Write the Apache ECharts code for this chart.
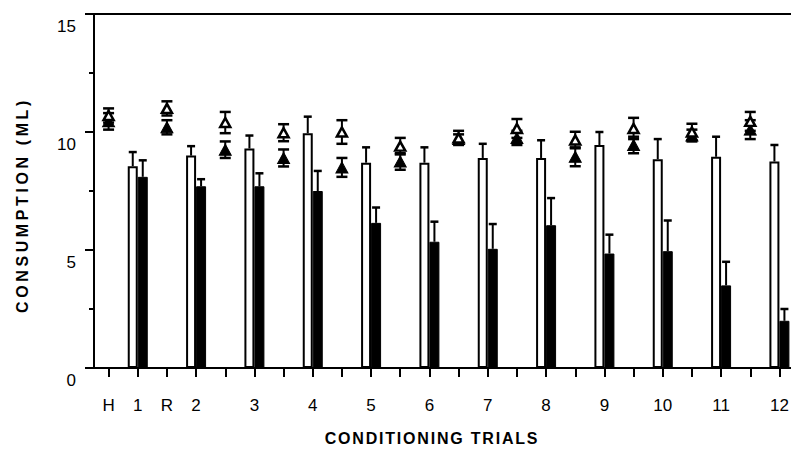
<!DOCTYPE html>
<html>
<head>
<meta charset="utf-8">
<script src="https://cdn.jsdelivr.net/npm/echarts@6/dist/echarts.min.js"></script>
<style>
html,body{margin:0;padding:0;background:#fff;overflow:hidden;width:791px;height:452px;}
#chart{width:804px;height:452px;}
</style>
</head>
<body>
<div id="chart"></div>
<script>
// Slot labels along the x axis (triangle slots alternate with bar slots)
const slotLabels = ['H','1','R','2','','3','','4','','5','','6','','7','','8','','9','','10','','11','','12'];

// Triangle measurements (at even slots): open and filled, mean and SE
const openTri     = [10.7, 11.0, 10.4, 9.97, 10.0, 9.4, 9.75, 10.15, 9.66, 10.15, 10.0, 10.45];
const openTriSE   = [0.3, 0.3, 0.45, 0.36, 0.5, 0.35, 0.3, 0.4, 0.35, 0.45, 0.35, 0.4];
const filledTri   = [10.45, 10.2, 9.25, 8.9, 8.5, 8.75, 9.7, 9.75, 8.95, 9.45, 9.85, 10.1];
const filledTriSE = [0.35, 0.3, 0.35, 0.36, 0.4, 0.35, 0.2, 0.3, 0.4, 0.35, 0.25, 0.4];

// Conditioning trial bars (at odd slots): white and black, mean and SE
const whiteBar   = [8.55, 9.0, 9.3, 9.95, 8.7, 8.7, 8.9, 8.9, 9.45, 8.85, 8.95, 8.75];
const whiteBarSE = [0.6, 0.4, 0.55, 0.7, 0.65, 0.65, 0.6, 0.75, 0.55, 0.85, 0.85, 0.7];
const blackBar   = [8.1, 7.7, 7.7, 7.5, 6.15, 5.35, 5.05, 6.05, 4.85, 4.95, 3.5, 2.0];
const blackBarSE = [0.7, 0.3, 0.55, 0.85, 0.65, 0.85, 1.05, 1.15, 0.8, 1.3, 1.0, 0.5];

const yTicks = [0, 5, 10, 15];

const triSlot = i => 2 * i;
const barSlot = i => 2 * i + 1;

function barData(vals) {
  const arr = slotLabels.map(() => '-');
  vals.forEach((v, i) => { arr[barSlot(i)] = v; });
  return arr;
}

function errSeries(name, means, ses, slotFn, dx, both, capW) {
  return {
    type: 'custom',
    name: name,
    z: 3,
    silent: true,
    data: means.map((m, i) => [slotFn(i), m, ses[i]]),
    renderItem: function (params, api) {
      const idx = api.value(0), m = api.value(1), se = api.value(2);
      const x = api.coord([idx, m])[0] + dx;
      const yHi = api.coord([idx, m + se])[1];
      const yLo = both ? api.coord([idx, m - se])[1] : api.coord([idx, m])[1];
      const st = { stroke: '#000', lineWidth: 2 };
      const children = [
        { type: 'line', shape: { x1: x, y1: yLo, x2: x, y2: yHi }, style: st },
        { type: 'line', shape: { x1: x - capW / 2, y1: yHi, x2: x + capW / 2, y2: yHi }, style: { stroke: '#000', lineWidth: 2.5 } }
      ];
      if (both) {
        children.push({ type: 'line', shape: { x1: x - capW / 2, y1: yLo, x2: x + capW / 2, y2: yLo }, style: { stroke: '#000', lineWidth: 2.5 } });
      }
      return { type: 'group', children: children };
    }
  };
}

const chart = echarts.init(document.getElementById('chart'), null, { renderer: 'svg' });
const labelFont = { color: '#000', fontSize: 17, fontFamily: '"Liberation Sans", Arial, sans-serif' };

chart.setOption({
  animation: false,
  backgroundColor: '#fff',
  grid: { left: 94, top: 14, width: 700, height: 354, show: true, borderColor: '#000', borderWidth: 2, backgroundColor: 'transparent' },
  xAxis: {
    type: 'category',
    data: slotLabels,
    boundaryGap: true,
    axisLine: { lineStyle: { color: '#000', width: 2 } },
    axisTick: { show: true, alignWithLabel: true, interval: 0, length: 9, lineStyle: { color: '#000', width: 2 } },
    axisLabel: Object.assign({ interval: 0, margin: 29 }, labelFont),
    splitLine: { show: false }
  },
  yAxis: {
    type: 'value',
    min: yTicks[0],
    max: yTicks[yTicks.length - 1],
    interval: 5,
    axisLine: { show: true, lineStyle: { color: '#000', width: 2 } },
    axisTick: { show: true, length: 9, lineStyle: { color: '#000', width: 2 } },
    minorTick: { show: true, splitNumber: 2, length: 5, lineStyle: { color: '#000', width: 2 } },
    axisLabel: Object.assign({ margin: 18, verticalAlign: 'top', padding: [4, 0, 0, 0] }, labelFont),
    splitLine: { show: false }
  },
  graphic: [
    {
      type: 'text', x: 432, y: 438, z: 10,
      style: { text: 'CONDITIONING TRIALS', fill: '#000', font: 'bold 16px "Liberation Sans", Arial, sans-serif', align: 'center', verticalAlign: 'middle', textAlign: 'center', textVerticalAlign: 'middle' }
    },
    {
      type: 'text', x: 22, y: 205, rotation: Math.PI / 2, z: 10,
      style: { text: 'CONSUMPTION (ML)', fill: '#000', font: 'bold 16px "Liberation Sans", Arial, sans-serif', align: 'center', verticalAlign: 'middle', textAlign: 'center', textVerticalAlign: 'middle' }
    }
  ],
  series: [
    {
      type: 'bar', name: 'White', data: barData(whiteBar), barWidth: 10, barGap: '0%', z: 2,
      itemStyle: { color: '#fff', borderColor: '#000', borderWidth: 2 }
    },
    {
      type: 'bar', name: 'Black', data: barData(blackBar), barWidth: 10, barGap: '0%', z: 2,
      itemStyle: { color: '#000', borderColor: '#000', borderWidth: 1 }
    },
    errSeries('White SE', whiteBar, whiteBarSE, barSlot, -5, false, 8),
    errSeries('Black SE', blackBar, blackBarSE, barSlot, 5, false, 8),
    errSeries('Open SE', openTri, openTriSE, triSlot, 0, true, 11),
    errSeries('Filled SE', filledTri, filledTriSE, triSlot, 0, true, 11),
    {
      type: 'scatter', name: 'Filled', z: 4, symbol: 'triangle', symbolSize: [12, 11],
      data: filledTri.map((v, i) => [triSlot(i), v]),
      itemStyle: { color: '#000', borderColor: '#000', borderWidth: 1, opacity: 1 }
    },
    {
      type: 'scatter', name: 'Open', z: 5, symbol: 'triangle', symbolSize: [10, 9],
      data: openTri.map((v, i) => [triSlot(i), v]),
      itemStyle: { color: '#fff', borderColor: '#000', borderWidth: 2.5, opacity: 1 }
    }
  ]
});

// Tracking (letter spacing) of the bold axis titles, as in the reference
function applyTracking() {
  const texts = document.querySelectorAll('#chart svg text');
  texts.forEach(t => {
    const s = t.textContent;
    if (s === 'CONDITIONING TRIALS') t.setAttribute('letter-spacing', '1.8');
    if (s === 'CONSUMPTION (ML)') t.setAttribute('letter-spacing', '3.6');
  });
}
applyTracking();
chart.on('finished', applyTracking);
</script>
</body>
</html>
